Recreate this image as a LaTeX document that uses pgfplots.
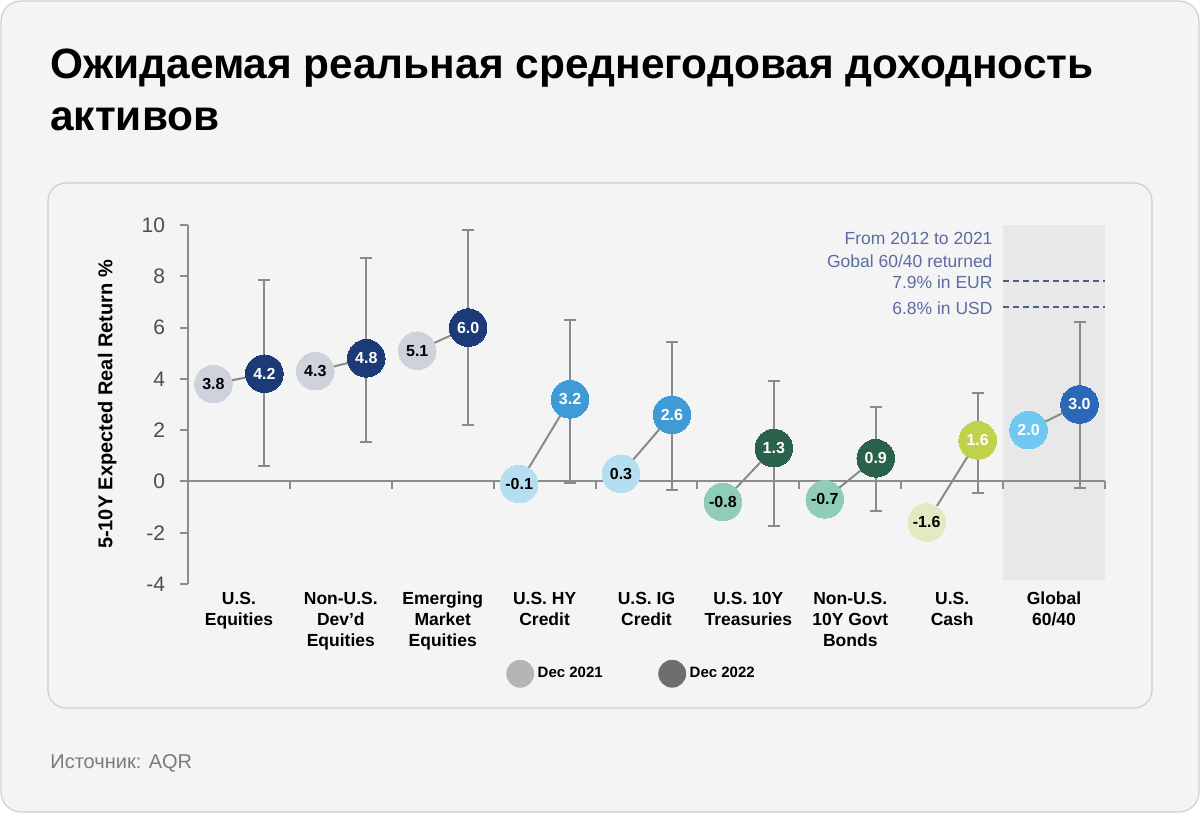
\documentclass[border=0pt]{standalone}
\usepackage{pgfplots}
\pgfplotsset{compat=1.18}
\usepackage{fontspec}
\setmainfont{Liberation Sans}
\definecolor{bg}{HTML}{F4F4F4}
\definecolor{bordergray}{HTML}{CFCFCF}
\definecolor{srcgray}{HTML}{7A7A7A}
\definecolor{axisg}{HTML}{8C8C8C}
\definecolor{errg}{HTML}{8A8A8A}
\definecolor{tickt}{HTML}{4D4D4D}
\definecolor{annot}{HTML}{5B6D9F}
\definecolor{dashc}{HTML}{4A5C94}
\definecolor{shade}{HTML}{E8E8E8}
\definecolor{eqa}{HTML}{CDD2DC}
\definecolor{eqb}{HTML}{1C3A78}
\definecolor{cra}{HTML}{B5DEF2}
\definecolor{crb}{HTML}{3F9BD5}
\definecolor{gva}{HTML}{8FCDB9}
\definecolor{gvb}{HTML}{29614A}
\definecolor{csa}{HTML}{E4E9C2}
\definecolor{csb}{HTML}{C0D14A}
\definecolor{gla}{HTML}{6EC8F0}
\definecolor{glb}{HTML}{2B69B8}
\definecolor{lga}{HTML}{B5B5B5}
\definecolor{lgb}{HTML}{6E6E6E}
\newcommand{\bub}[4]{\addplot[only marks, color=#3, mark=*, mark size=9.4pt, mark options={fill=#3, draw=#3, line width=0pt}, nodes near coords, point meta=explicit symbolic, nodes near coords style={anchor=center, inner sep=0pt, text=#4, font=\fontsize{8}{9}\selectfont\bfseries}] coordinates {(#1) [#2]};}
\newcommand{\conn}[2]{\addplot[errg, line width=1pt, mark=none] coordinates {(#1) (#2)};}
\newcommand{\ebar}[3]{\addplot[draw=none, mark=none, error bars/.cd, y dir=both, y explicit, error bar style={draw=errg, line width=1pt}, error mark options={draw=errg, line width=1pt, mark size=3pt, rotate=90}] coordinates {(#1) += (0,#2) -= (0,#3)};}
\begin{document}
\begin{tikzpicture}
\useasboundingbox (0,0) rectangle (600pt,406.5pt);
\draw[draw=bordergray, fill=bg, rounded corners=10pt, line width=0.6pt] (0.5pt,0.5pt) rectangle (599.5pt,406pt);
\draw[draw=bordergray, fill=bg, rounded corners=9pt, line width=0.6pt] (24pt,52.5pt) rectangle (576pt,315pt);
\node[anchor=base west, inner sep=0pt, font=\fontsize{21.2}{25}\selectfont\bfseries] at (25pt,367pt) {Ожидаемая реальная среднегодовая доходность};
\node[anchor=base west, inner sep=0pt, font=\fontsize{21.2}{25}\selectfont\bfseries] at (25pt,341pt) {активов};
\node[anchor=base west, inner sep=0pt, font=\fontsize{10}{12}\selectfont, text=srcgray] at (25pt,22pt) {Источник: AQR};
\begin{axis}[
  at={(94pt,114.5pt)}, anchor=south west,
  scale only axis, width=458.5pt, height=179.5pt,
  xmin=0, xmax=9, ymin=-4, ymax=10, enlargelimits=false, clip=false,
  axis x line*=bottom, axis y line*=left,
  x axis line style={draw=none},
  y axis line style={axisg, line width=1pt},
  xtick={0.5,1.5,...,8.5},
  xticklabels={{U.S.\\Equities},{Non-U.S.\\Dev’d\\Equities},{Emerging\\Market\\Equities},{U.S. HY\\Credit},{U.S. IG\\Credit},{U.S. 10Y\\Treasuries},{Non-U.S.\\10Y Govt\\Bonds},{U.S.\\Cash},{Global\\60/40}},
  xtick style={draw=none},
  xticklabel style={align=center, font=\fontsize{8.75}{10.5}\selectfont\bfseries, text=black, anchor=north, yshift=3.5pt},
  ytick={-4,-2,...,10},
  tick align=outside,
  ytick style={axisg, line width=1pt},
  major tick length=4pt,
  yticklabel style={font=\fontsize{10.5}{12}\selectfont, text=tickt, xshift=-4pt},
  /pgf/number format/assume math mode=true,
  ylabel={5-10Y Expected Real Return \%},
  every axis y label/.style={at={(axis description cs:-0.088,0.5)}, rotate=90, anchor=center, font=\fontsize{10}{12}\selectfont\bfseries},
  legend style={draw=none, fill=none, at={(axis description cs:0.485,-0.25)}, anchor=center, legend columns=2, font=\fontsize{7.5}{9}\selectfont\bfseries, /tikz/every even column/.append style={column sep=26pt}},
  legend cell align=left,
]
\addlegendimage{only marks, mark=*, color=lga, mark size=6.75pt, mark options={fill=lga, draw=lga}}
\addlegendentry{Dec 2021}
\addlegendimage{only marks, mark=*, color=lgb, mark size=6.75pt, mark options={fill=lgb, draw=lgb}}
\addlegendentry{Dec 2022}
% shaded Global 60/40 column
\addplot[fill=shade, draw=none, mark=none] coordinates {(8,-3.85) (9,-3.85) (9,10) (8,10)} -- cycle;
% x axis line at 0 and ticks
\addplot[axisg, line width=1pt, mark=none] coordinates {(0,0) (9,0)};
\addplot[ycomb, axisg, line width=1pt, mark=none] coordinates {(1,-0.28) (2,-0.28) (3,-0.28) (4,-0.28) (5,-0.28) (6,-0.28) (7,-0.28) (8,-0.28) (9,-0.28)};
% dashed reference lines
\addplot[dashc, line width=0.9pt, dash pattern=on 3pt off 2pt, mark=none] coordinates {(8,7.82) (9,7.82)};
\addplot[dashc, line width=0.9pt, dash pattern=on 3pt off 2pt, mark=none] coordinates {(8,6.8) (9,6.8)};
\node[anchor=east, inner sep=0pt, font=\fontsize{8.75}{10}\selectfont, text=annot] at (axis cs:7.9,9.49) {From 2012 to 2021};
\node[anchor=east, inner sep=0pt, font=\fontsize{8.75}{10}\selectfont, text=annot] at (axis cs:7.9,8.6) {Gobal 60/40 returned};
\node[anchor=east, inner sep=0pt, font=\fontsize{8.75}{10}\selectfont, text=annot] at (axis cs:7.9,7.78) {7.9\% in EUR};
\node[anchor=east, inner sep=0pt, font=\fontsize{8.75}{10}\selectfont, text=annot] at (axis cs:7.9,6.77) {6.8\% in USD};
% connectors
\conn{0.25,3.8}{0.75,4.2}
\conn{1.25,4.3}{1.75,4.8}
\conn{2.25,5.1}{2.75,6.0}
\conn{3.25,-0.1}{3.75,3.2}
\conn{4.25,0.3}{4.75,2.6}
\conn{5.25,-0.8}{5.75,1.3}
\conn{6.25,-0.7}{6.75,0.9}
\conn{7.25,-1.6}{7.75,1.6}
\conn{8.25,2.0}{8.75,3.0}
% error bars (Dec 2022)
\ebar{0.75,4.2}{3.65}{3.6}
\ebar{1.75,4.8}{3.9}{3.25}
\ebar{2.75,6.0}{3.8}{3.8}
\ebar{3.75,3.2}{3.1}{3.25}
\ebar{4.75,2.6}{2.85}{2.95}
\ebar{5.75,1.3}{2.6}{3.05}
\ebar{6.75,0.9}{2.0}{2.05}
\ebar{7.75,1.6}{1.85}{2.05}
\ebar{8.75,3.0}{3.2}{3.25}
% bubbles
\bub{0.25,3.8}{3.8}{eqa}{black}
\bub{0.75,4.2}{4.2}{eqb}{white}
\bub{1.25,4.3}{4.3}{eqa}{black}
\bub{1.75,4.8}{4.8}{eqb}{white}
\bub{2.25,5.1}{5.1}{eqa}{black}
\bub{2.75,6.0}{6.0}{eqb}{white}
\bub{3.25,-0.1}{-0.1}{cra}{black}
\bub{3.75,3.2}{3.2}{crb}{white}
\bub{4.25,0.3}{0.3}{cra}{black}
\bub{4.75,2.6}{2.6}{crb}{white}
\bub{5.25,-0.8}{-0.8}{gva}{black}
\bub{5.75,1.3}{1.3}{gvb}{white}
\bub{6.25,-0.7}{-0.7}{gva}{black}
\bub{6.75,0.9}{0.9}{gvb}{white}
\bub{7.25,-1.6}{-1.6}{csa}{black}
\bub{7.75,1.6}{1.6}{csb}{white}
\bub{8.25,2.0}{2.0}{gla}{white}
\bub{8.75,3.0}{3.0}{glb}{white}
\end{axis}
\end{tikzpicture}
\end{document}
